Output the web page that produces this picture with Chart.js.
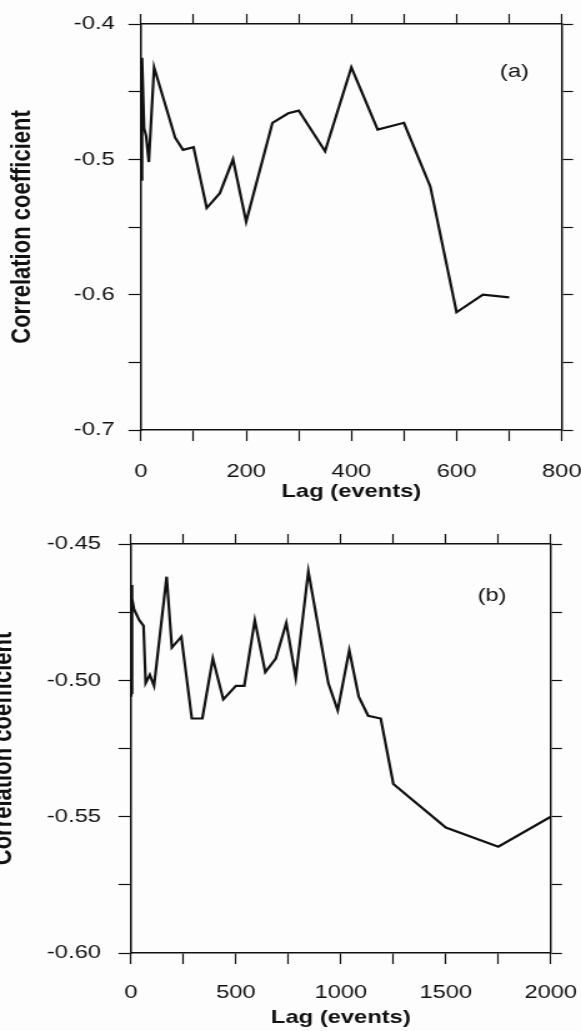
<!DOCTYPE html>
<html>
<head>
<meta charset="utf-8">
<script src="https://cdn.jsdelivr.net/npm/chart.js@4.4.1/dist/chart.umd.min.js"></script>
<style>
  html, body { margin: 0; padding: 0; background: #fdfdfd; }
  #wrap { position: relative; width: 581px; height: 1031px; overflow: hidden; }
  canvas { position: absolute; left: 0; }
</style>
</head>
<body>
<div id="wrap">
  <!-- the scan is stretched sideways, so canvases are drawn narrow and widened by inline css -->
  <canvas id="chartA" width="465" height="515" style="top:0px;width:581px;height:515px;"></canvas>
  <canvas id="chartB" width="465" height="516" style="top:515px;width:581px;height:516px;"></canvas>
</div>
<script>
//#            Data
const lagA = [1, 2, 6, 10, 15, 25, 65, 80, 100, 125, 150, 175, 200, 250, 280, 300, 350, 400, 450, 500, 550, 600, 650, 700];
const corrA = [-0.515, -0.425, -0.477, -0.483, -0.502, -0.432, -0.484, -0.493, -0.491, -0.536, -0.525, -0.5, -0.546, -0.473, -0.466, -0.464, -0.494, -0.432, -0.478, -0.473, -0.52, -0.613, -0.6, -0.602];

const lagB = [1, 2, 4, 6, 15, 40, 60, 70, 90, 110, 170, 195, 240, 290, 340, 390, 440, 500, 540, 590, 640, 690, 740, 785, 845, 940, 985, 1040, 1085, 1130, 1190, 1250, 1500, 1750, 2000];
const corrB = [-0.506, -0.465, -0.505, -0.47, -0.474, -0.478, -0.48, -0.501, -0.498, -0.502, -0.462, -0.488, -0.484, -0.514, -0.514, -0.492, -0.507, -0.502, -0.502, -0.478, -0.497, -0.492, -0.479, -0.499, -0.46, -0.501, -0.511, -0.489, -0.506, -0.513, -0.514, -0.538, -0.554, -0.561, -0.55];

const xLabel = "Lag (events)";
const yLabel = "Correlation coefficient";

const FONT = "'Liberation Sans', Arial, Helvetica, sans-serif";
const INK = "#111111";

//#            Small plugin for the (a) / (b) tag inside the plot
const panelTag = {
  id: "panelTag",
  afterDatasetsDraw(chart, args, opts) {
    const { ctx, scales } = chart;
    ctx.save();
    ctx.font = `19px ${FONT}`;
    ctx.fillStyle = INK;
    ctx.textAlign = "center";
    ctx.textBaseline = "middle";
    ctx.fillText(opts.text, scales.x.getPixelForValue(opts.x), scales.y.getPixelForValue(opts.y));
    ctx.restore();
  },
};

// labels may hang past the plot edge, so drop the extra padding chart.js asks for
const noPad = (s) => {
  s.paddingLeft = 0;
  s.paddingRight = 0;
  s.paddingTop = 0;
  s.paddingBottom = 0;
};

// builds one panel, p holds axis limits and the sizes of the axis boxes (canvas units)
const makePanel = function (canvasId, lags, corr, p) {
  const tickGrid = (len) => ({
    display: true,
    drawOnChartArea: false,
    drawTicks: true,
    tickLength: len,
    tickColor: INK,
    tickWidth: 1.2,
  });
  const axisBorder = { display: true, color: INK, width: 1.5 };

  const config = {
    type: "line",
    data: {
      datasets: [
        {
          data: lags.map((l, i) => ({ x: l, y: corr[i] })),
          borderColor: INK,
          borderWidth: 2.2,
          pointRadius: 0,
          tension: 0,
          fill: false,
        },
      ],
    },
    options: {
      responsive: false,
      animation: false,
      events: [],
      layout: { padding: 0 },
      scales: {
        x: {
          type: "linear",
          position: "bottom",
          min: 0,
          max: p.xMax,
          border: axisBorder,
          grid: tickGrid(11),
          ticks: {
            stepSize: p.xStep,
            color: INK,
            padding: p.xPad,
            maxRotation: 0,
            autoSkip: false,
            font: { family: FONT, size: 19 },
            callback: (v) => (v % p.xMajor === 0 ? String(v) : ""),
          },
          title: {
            display: true,
            text: xLabel,
            color: INK,
            font: { family: FONT, size: 19, weight: "bold" },
            padding: { top: 0, bottom: p.xTitlePad },
          },
          afterFit: (s) => { s.height = p.bottom; noPad(s); },
        },
        x2: {
          type: "linear",
          position: "top",
          min: 0,
          max: p.xMax,
          border: axisBorder,
          grid: tickGrid(10),
          ticks: { stepSize: p.xStep, display: false },
          afterFit: (s) => { s.height = p.top; noPad(s); },
        },
        y: {
          type: "linear",
          position: "left",
          min: p.yMin,
          max: p.yMax,
          border: axisBorder,
          grid: tickGrid(10),
          ticks: {
            stepSize: p.yStep,
            color: INK,
            padding: p.yPad,
            autoSkip: false,
            font: { family: FONT, size: 19 },
            callback: (v) => {
              const k = v / p.yMajor;
              return Math.abs(k - Math.round(k)) < 1e-6 ? v.toFixed(p.yDec) : "";
            },
          },
          title: {
            display: true,
            text: yLabel,
            color: INK,
            font: { family: FONT, size: 22, weight: "bold" },
            padding: { top: p.yTitlePad, bottom: 0 },
          },
          afterFit: (s) => { s.width = p.left; noPad(s); },
        },
        y2: {
          type: "linear",
          position: "right",
          min: p.yMin,
          max: p.yMax,
          border: axisBorder,
          grid: tickGrid(9),
          ticks: { stepSize: p.yStep, display: false },
          afterFit: (s) => { s.width = p.right; noPad(s); },
        },
      },
      plugins: {
        legend: { display: false },
        tooltip: { enabled: false },
        panelTag: p.tag,
      },
    },
    plugins: [panelTag],
  };

  const ctx = document.getElementById(canvasId).getContext("2d");
  return new Chart(ctx, config);
};

//#            Panel (a)
makePanel("chartA", lagA, corrA, {
  xMax: 800, xStep: 100, xMajor: 200,
  yMin: -0.7, yMax: -0.4, yStep: 0.05, yMajor: 0.1, yDec: 1,
  left: 112.8, right: 15.4, top: 24, bottom: 85,
  xPad: 19, yPad: 11, xTitlePad: 12, yTitlePad: 5,
  tag: { text: "(a)", x: 710, y: -0.435 },
});

//#            Panel (b)
makePanel("chartB", lagB, corrB, {
  xMax: 2000, xStep: 250, xMajor: 500,
  yMin: -0.6, yMax: -0.45, yStep: 0.025, yMajor: 0.05, yDec: 2,
  left: 104.8, right: 24.2, top: 29, bottom: 78,
  xPad: 17, yPad: 14, xTitlePad: 2, yTitlePad: -10,
  tag: { text: "(b)", x: 1720, y: -0.469 },
});
</script>
</body>
</html>
